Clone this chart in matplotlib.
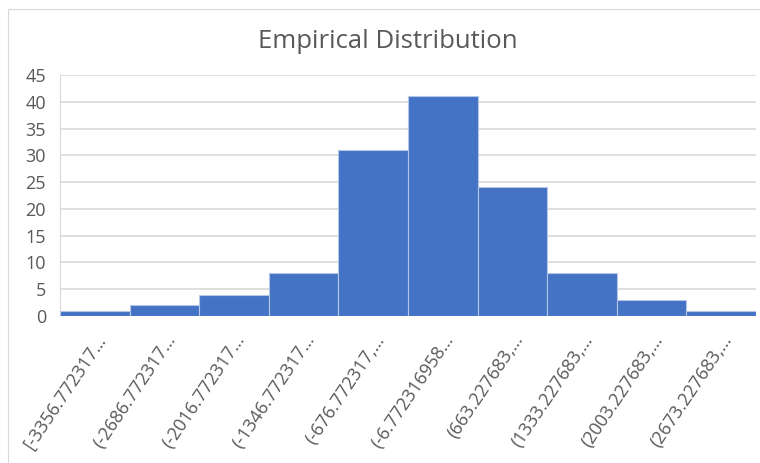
import matplotlib
matplotlib.use("Agg")
import matplotlib.pyplot as plt
from matplotlib.patches import Rectangle

# Histogram bins and counts
bin_labels = [
    "[-3356.772317…",
    "(-2686.772317…",
    "(-2016.772317…",
    "(-1346.772317…",
    "(-676.772317,…",
    "(-6.772316958…",
    "(663.227683,…",
    "(1333.227683,…",
    "(2003.227683,…",
    "(2673.227683,…",
]
counts = [1, 2, 4, 8, 31, 41, 24, 8, 3, 1]
y_ticks = [0, 5, 10, 15, 20, 25, 30, 35, 40, 45]

TEXT = "#595959"
GRID = "#d9d9d9"
BAR = "#4472c4"

plt.rcParams["font.family"] = ["Open Sans", "DejaVu Sans"]

fig = plt.figure(figsize=(7.6, 4.63), dpi=100)
W, H = 760, 463

# chart area border
fig.patches.append(Rectangle((8 / W, -0.1), 2.0, (H - 9) / H + 0.1,
                             transform=fig.transFigure, fill=False,
                             edgecolor=GRID, linewidth=0.8))

ax = fig.add_axes([60 / W, (H - 316) / H, 696 / W, 241 / H])

x = list(range(len(counts)))
ax.bar(x, counts, width=1.0, color=BAR, edgecolor="#b4c7e7", linewidth=0.8,
       zorder=3)

ax.set_xlim(-0.5, len(counts) - 0.5)
ax.set_ylim(0, 45)
ax.set_yticks(y_ticks)
ax.yaxis.grid(True, color=GRID, linewidth=1.2, zorder=0)
ax.set_axisbelow(True)

for s in ("top", "right", "bottom"):
    ax.spines[s].set_visible(False)
ax.spines["left"].set_color(GRID)
ax.spines["left"].set_linewidth(0.8)

ax.tick_params(axis="y", length=0, pad=10, labelsize=13, labelcolor=TEXT)
ax.tick_params(axis="x", length=0, pad=11, labelsize=13, labelcolor=TEXT)
ax.set_xticks(x)
ax.set_xticklabels(bin_labels, rotation=56, ha="right", va="top",
                   rotation_mode="anchor")

fig.text(388 / W, 1 - 41 / H, "Empirical Distribution", ha="center",
         va="center", fontsize=18.5, color=TEXT)

fig.savefig("out.png", dpi=100)
